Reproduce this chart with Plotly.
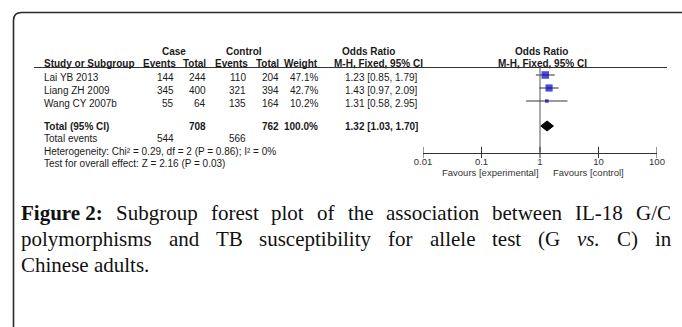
import plotly.graph_objects as go

W, H = 682, 327

# ---------------- data ----------------
studies = ["Lai YB 2013", "Liang ZH 2009", "Wang CY 2007b"]
case_events = [144, 345, 55]
case_total = [244, 400, 64]
ctrl_events = [110, 321, 135]
ctrl_total = [204, 394, 164]
weight = [47.1, 42.7, 10.2]
or_val = [1.23, 1.43, 1.31]
ci_low = [0.85, 0.97, 0.58]
ci_high = [1.79, 2.09, 2.95]

total_label = "Total (95% CI)"
total_case = 708
total_ctrl = 762
total_weight = 100.0
total_or = 1.32
total_low = 1.03
total_high = 1.70
events_case = 544
events_ctrl = 566
heterogeneity = "Heterogeneity: Chi² = 0.29, df = 2 (P = 0.86); I² = 0%"
overall = "Test for overall effect: Z = 2.16 (P = 0.03)"

tick_vals = [0.01, 0.1, 1, 10, 100]
tick_text = ["0.01", "0.1", "1", "10", "100"]
fav_left = "Favours [experimental]"
fav_right = "Favours [control]"

caption_line1 = ["Figure 2:", "Subgroup", "forest", "plot", "of", "the",
                 "association", "between", "IL-18", "G/C"]
caption_line2 = ["polymorphisms", "and", "TB", "susceptibility", "for", "allele",
                 "test", "(G", "vs.", "C)", "in"]
caption_line3 = "Chinese adults."

# ---------------- layout helpers (pixel positions) ----------------
row_y = [77, 90, 103]
total_y = 126
events_y = 138
het_y = 151
test_y = 163
axis_y = 152.5
hdr1_y = 51
hdr2_y = 63
rule_y = 67.5

SANS = "Liberation Sans, Arial, sans-serif"
SERIF = "Liberation Serif, Times New Roman, serif"
TXT = "#1a1a1a"

def px(x):
    return x / W

def py(y):
    return 1 - y / H

annotations = []

def txt(x, y, s, anchor="left", size=10, bold=False, color=TXT, font=SANS):
    if bold:
        s = "<b>" + s + "</b>"
    annotations.append(dict(
        x=px(x), y=y, xref="paper", yref="y", text=s, showarrow=False,
        xanchor=anchor, yanchor="middle", font=dict(family=font, size=size, color=color)))

# headers
txt(174, hdr1_y, "Case", "center", bold=True)
txt(244, hdr1_y, "Control", "center", bold=True)
txt(368, hdr1_y, "Odds Ratio", "center", bold=True)
txt(541, hdr1_y, "Odds Ratio", "center", bold=True)
txt(42, hdr2_y, "Study or Subgroup", "left", bold=True)
txt(178, hdr2_y, "Events", "right", bold=True)
txt(208, hdr2_y, "Total", "right", bold=True)
txt(250, hdr2_y, "Events", "right", bold=True)
txt(281, hdr2_y, "Total", "right", bold=True)
txt(320, hdr2_y, "Weight", "right", bold=True)
txt(332, hdr2_y, "M-H, Fixed, 95% CI", "left", bold=True)
txt(542, hdr2_y, "M-H, Fixed, 95% CI", "center", bold=True)

# study rows
for i, s in enumerate(studies):
    y = row_y[i]
    txt(42, y, s)
    txt(176, y, str(case_events[i]), "right")
    txt(208, y, str(case_total[i]), "right")
    txt(248, y, str(ctrl_events[i]), "right")
    txt(281, y, str(ctrl_total[i]), "right")
    txt(320, y, f"{weight[i]:.1f}%", "right")
    txt(343, y, f"{or_val[i]:.2f} [{ci_low[i]:.2f}, {ci_high[i]:.2f}]")

# total rows
txt(42, total_y, total_label, bold=True)
txt(208, total_y, str(total_case), "right", bold=True)
txt(281, total_y, str(total_ctrl), "right", bold=True)
txt(320, total_y, f"{total_weight:.1f}%", "right", bold=True)
txt(343, total_y, f"{total_or:.2f} [{total_low:.2f}, {total_high:.2f}]", bold=True)
txt(42, events_y, "Total events")
txt(176, events_y, str(events_case), "right")
txt(248, events_y, str(events_ctrl), "right")
txt(42, het_y, heterogeneity)
txt(42, test_y, overall)

# favours labels
txt(541, 172, fav_left, "right", size=9.5, color="#333")
txt(551, 172, fav_right, "left", size=9.5, color="#333")

# ---------------- justified caption ----------------
TIMES_R = {' ': 250, '(': 333, ')': 333, '-': 333, '.': 250, '/': 278, ':': 278,
           '1': 500, '2': 500, '8': 500, 'C': 667, 'F': 556, 'G': 722, 'I': 333,
           'L': 611, 'T': 611, 'B': 667, 'S': 556, 'a': 444, 'b': 500, 'c': 444,
           'd': 500, 'e': 444, 'f': 333, 'g': 500, 'h': 500, 'i': 278, 'l': 278,
           'm': 778, 'n': 500, 'o': 500, 'p': 500, 'r': 333, 's': 389, 't': 278,
           'u': 500, 'v': 500, 'w': 722, 'y': 500}
TIMES_B = {'F': 611, 'i': 278, 'g': 500, 'u': 556, 'r': 444, 'e': 444, ' ': 250,
           '2': 500, ':': 333}
TIMES_I = {'v': 444, 's': 389, '.': 250}

cap_size = 21
cap_left, cap_right = 19, 669

def width(word, table):
    return sum(table.get(c, 500) for c in word) * cap_size / 1000.0

def justify(words, y, styles):
    widths = [width(w, {"b": TIMES_B, "i": TIMES_I}.get(st, TIMES_R))
              for w, st in zip(words, styles)]
    gap = (cap_right - cap_left - sum(widths)) / (len(words) - 1)
    x = cap_left
    for w, wd, st in zip(words, widths, styles):
        s = {"b": "<b>%s</b>", "i": "<i>%s</i>"}.get(st, "%s") % w
        txt(x, y, s, "left", size=cap_size, font=SERIF, color="#111")
        x += wd + gap

justify(caption_line1, 213, ["b"] + ["r"] * (len(caption_line1) - 1))
justify(caption_line2, 239,
        ["i" if w == "vs." else "r" for w in caption_line2])
txt(cap_left, 265, caption_line3, "left", size=cap_size, font=SERIF, color="#111")

fig = go.Figure()

# CI lines for studies
for i in range(len(studies)):
    fig.add_trace(go.Scatter(
        x=[ci_low[i], ci_high[i]], y=[row_y[i] - 2, row_y[i] - 2], mode="lines",
        line=dict(color="#333", width=1), hoverinfo="skip", showlegend=False))

# squares
sizes = [1.1 * (w ** 0.5) for w in weight]
fig.add_trace(go.Scatter(
    x=or_val, y=[y - 2 for y in row_y], mode="markers",
    marker=dict(symbol="square", size=sizes, color="#0000C8", line=dict(width=0)),
    hoverinfo="skip", showlegend=False))

# diamond
fig.add_trace(go.Scatter(
    x=[total_low, total_or, total_high, total_or, total_low],
    y=[total_y, total_y - 5, total_y, total_y + 5, total_y],
    mode="lines", fill="toself", fillcolor="black", line=dict(color="black", width=1),
    hoverinfo="skip", showlegend=False))

# null line at OR = 1
fig.add_trace(go.Scatter(
    x=[1, 1], y=[rule_y, axis_y], mode="lines", line=dict(color="#555", width=1),
    hoverinfo="skip", showlegend=False))

# tick marks crossing the axis
fig.add_trace(go.Scatter(
    x=tick_vals, y=[axis_y] * len(tick_vals), mode="markers",
    marker=dict(symbol="line-ns", size=8, line=dict(color="#333", width=1)),
    hoverinfo="skip", showlegend=False))

# shapes: border and header rule
r = 8
x0, y0 = 13.5, 12.5
border = (f"M {px(x0)},{py(H + 5)} L {px(x0)},{py(y0 + r)} "
          f"Q {px(x0)},{py(y0)} {px(x0 + r)},{py(y0)} L {px(W + 5)},{py(y0)}")
shapes = [
    dict(type="path", path=border, xref="paper", yref="paper",
         line=dict(color="#2a2a2a", width=1.6)),
    dict(type="line", xref="paper", yref="y", x0=px(34), x1=px(667), y0=rule_y, y1=rule_y,
         line=dict(color="#333", width=1)),
]

fig.update_layout(
    width=W, height=H, margin=dict(l=0, r=0, t=0, b=0, autoexpand=False),
    paper_bgcolor="white", plot_bgcolor="rgba(0,0,0,0)",
    showlegend=False, annotations=annotations, shapes=shapes,
    xaxis=dict(type="log", range=[-2, 2], domain=[px(423), px(657)],
               anchor="free", position=py(axis_y), showline=True, linecolor="#333",
               linewidth=1, ticks="", tickvals=tick_vals, ticktext=tick_text,
               tickfont=dict(family=SANS, size=9.5, color="#333"),
               showgrid=False, zeroline=False, fixedrange=True),
    yaxis=dict(range=[H, 0], domain=[0, 1], visible=False, fixedrange=True),
)

fig.write_html("out.html", config={"displayModeBar": False},
               post_script="document.body.style.margin='0';document.body.style.overflow='hidden';")
